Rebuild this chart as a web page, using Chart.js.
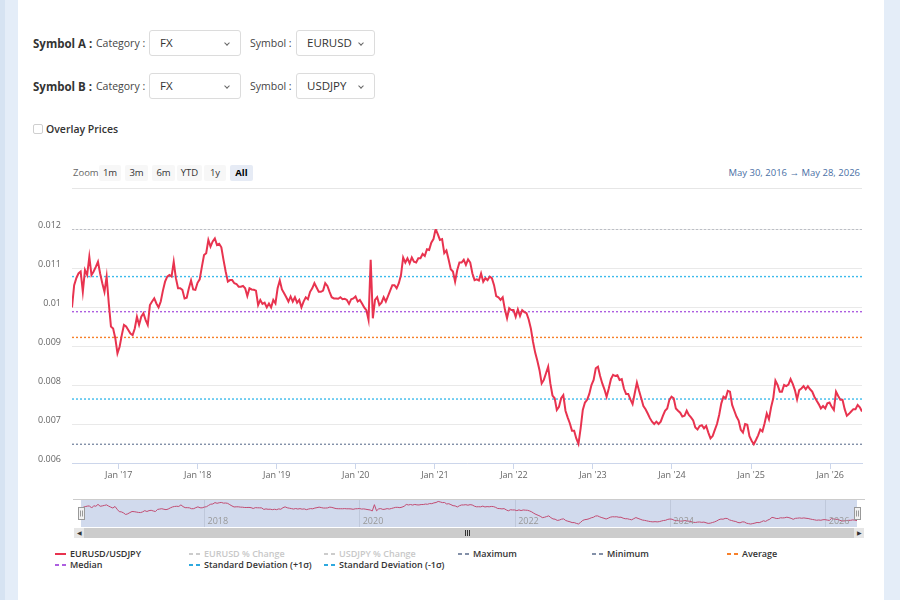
<!DOCTYPE html>
<html>
<head>
<meta charset="utf-8">
<script src="https://cdn.jsdelivr.net/npm/chart.js@4.4.1/dist/chart.umd.min.js"></script>
<style>
  html, body { margin: 0; padding: 0; }
  body {
    width: 900px; height: 600px; overflow: hidden; position: relative;
    background: linear-gradient(to right, #d6e3f2 0 5px, #e4edf8 5px);
    font-family: 'Open Sans', sans-serif; color: #333;
  }
  .panel { position: absolute; left: 18px; top: 0; width: 866px; height: 600px; background: #fff; }
  .abs { position: absolute; white-space: nowrap; }
  .lbl-b { font-size: 11.5px; font-weight: 700; color: #333; line-height: 16px; }
  .lbl { font-size: 10.5px; color: #444; line-height: 16px; }
  .sel { border: 1px solid #dcdcdc; border-radius: 3px; height: 26px; box-sizing: border-box; font-size: 11.5px; line-height: 24px; padding-left: 10px; color: #333; }
  .sel::after { content: ''; position: absolute; right: 11px; top: 10px; width: 3px; height: 3px; border-right: 1px solid #666; border-bottom: 1px solid #666; transform: rotate(45deg); }
  .chk { width: 10px; height: 10px; border: 1px solid #cfcfcf; border-radius: 2px; box-sizing: border-box; }
  .zbtn { height: 16px; line-height: 16px; font-size: 9.5px; text-align: center; background: #f7f7f7; color: #333; border-radius: 2px; }
  .zbtn.on { background: #e6ebf5; font-weight: 700; color: #000; }
  .leg { font-size: 9px; font-weight: 600; color: #333; line-height: 11px; }
  .leg.off { color: #c8c8c8; }
  .sym { position: absolute; left: -15px; top: 5px; width: 11px; height: 2px; }
</style>
</head>
<body>
<div class="panel"></div>

<div class="abs lbl-b" style="left:33px;top:36px">Symbol A :</div>
<div class="abs lbl" style="left:96px;top:35px">Category :</div>
<div class="abs sel" style="left:149px;top:30px;width:92px">FX</div>
<div class="abs lbl" style="left:250px;top:35px">Symbol :</div>
<div class="abs sel" style="left:296px;top:30px;width:79px">EURUSD</div>

<div class="abs lbl-b" style="left:33px;top:79px">Symbol B :</div>
<div class="abs lbl" style="left:96px;top:78px">Category :</div>
<div class="abs sel" style="left:149px;top:73px;width:92px">FX</div>
<div class="abs lbl" style="left:250px;top:78px">Symbol :</div>
<div class="abs sel" style="left:296px;top:73px;width:79px">USDJPY</div>

<div class="abs chk" style="left:33px;top:124px"></div>
<div class="abs lbl" style="left:46px;top:121px;font-weight:600;color:#333">Overlay Prices</div>

<div class="abs" style="left:73px;top:165px;font-size:9.5px;line-height:16px;color:#666">Zoom</div>
<div id="zoomBtns"></div>
<div class="abs" id="dateRange" style="right:40px;top:165px;font-size:9.5px;line-height:16px;color:#4a6fa5"></div>
<div class="abs" style="left:72px;top:188px;width:790px;height:1px;background:#e6e6e6"></div>

<canvas id="mainChart" class="abs" width="867" height="290" style="left:18px;top:200px"></canvas>
<canvas id="navChart" class="abs" width="792" height="34" style="left:73px;top:494px"></canvas>

<!-- scrollbar -->
<div class="abs" style="left:74px;top:528px;width:790px;height:10px;background:#f2f2f2"></div>
<div class="abs" style="left:84px;top:528px;width:770px;height:10px;background:#cccccc"></div>
<div class="abs" style="left:74px;top:528px;width:10px;height:10px;background:#e6e6e6;font-size:6px;line-height:10px;text-align:center;color:#333">&#9664;</div>
<div class="abs" style="left:854px;top:528px;width:10px;height:10px;background:#e6e6e6;font-size:6px;line-height:10px;text-align:center;color:#333">&#9654;</div>
<div class="abs" style="left:465px;top:530px;width:1px;height:6px;background:#333;box-shadow:2px 0 #333, 4px 0 #333"></div>

<div id="legend"></div>

<script>
// EURUSD/USDJPY ratio, one reading every 10 days from May 30, 2016
const startDate = Date.UTC(2016, 4, 30);
const stepDays = 10;
const ratioValues = [
  // 2016
  0.00999, 0.01056, 0.01074, 0.01086, 0.01091, 0.01039, 0.01095, 0.01082, 0.01129, 0.01082,
  0.01091, 0.01103, 0.01116, 0.01086, 0.01061, 0.01039, 0.01078, 0.01009, 0.00950, 0.00945,
  0.00920, 0.00881,
  // 2017
  0.00898, 0.00928, 0.00954, 0.00950, 0.00941, 0.00932, 0.00928, 0.00945,
  0.00975, 0.00954, 0.00975, 0.00984, 0.00967, 0.00954, 0.01005, 0.01014, 0.01022, 0.01009,
  0.00999, 0.01014, 0.01042, 0.01065, 0.01078, 0.01082, 0.01078, 0.01116, 0.01074, 0.01048,
  0.01048, 0.01044, 0.01022, 0.01024, 0.01048, 0.01068, 0.01045, 0.01044, 0.01062,
  // 2018
  0.01071, 0.01103, 0.01133, 0.01138, 0.01172, 0.01155, 0.01168, 0.01176, 0.01159, 0.01162, 0.01153,
  0.01121, 0.01091, 0.01065, 0.01069, 0.01069, 0.01061, 0.01059, 0.01052, 0.01052, 0.01054,
  0.01048, 0.01028, 0.01048, 0.01045, 0.01044, 0.01042, 0.01005, 0.01018, 0.01008, 0.01011,
  0.00999, 0.01009, 0.00999, 0.01018, 0.01009,
  // 2019
  0.01048, 0.01068, 0.01045, 0.01035, 0.01025,
  0.01014, 0.01027, 0.01014, 0.01025, 0.01011, 0.01018, 0.00999, 0.01014, 0.01025, 0.01020,
  0.01039, 0.01048, 0.01061, 0.01050, 0.01039, 0.01039, 0.01042, 0.01061, 0.01054, 0.01039,
  0.01025, 0.01022, 0.01022, 0.01021, 0.01025, 0.01020, 0.01021, 0.01018,
  // 2020
  0.01008, 0.01020, 0.01022, 0.01027, 0.01014, 0.01018, 0.01009, 0.00999, 0.00992, 0.00967, 0.01121, 0.00971,
  0.01018, 0.01025, 0.01005, 0.01011, 0.01025, 0.01014, 0.01028, 0.01042, 0.01056, 0.01056,
  0.01048, 0.01061, 0.01082, 0.01127, 0.01114, 0.01125, 0.01112, 0.01127, 0.01116, 0.01114,
  0.01125, 0.01125, 0.01136, 0.01131, 0.01148,
  // 2021
  0.01146, 0.01165, 0.01174, 0.01200, 0.01187,
  0.01172, 0.01174, 0.01138, 0.01145, 0.01122, 0.01097, 0.01091, 0.01065, 0.01095, 0.01114,
  0.01114, 0.01121, 0.01108, 0.01122, 0.01114, 0.01086, 0.01069, 0.01071, 0.01068, 0.01086,
  0.01065, 0.01074, 0.01069, 0.01078, 0.01074, 0.01056,
  // 2022
  0.01028, 0.01025, 0.01018, 0.01025,
  0.00994, 0.00971, 0.00997, 0.00992, 0.00992, 0.00975, 0.00994, 0.00977, 0.00992, 0.00987,
  0.00984, 0.00968, 0.00945, 0.00911, 0.00883, 0.00862, 0.00838, 0.00804, 0.00813, 0.00830,
  0.00847, 0.00804, 0.00773, 0.00766, 0.00736, 0.00744, 0.00766, 0.00774, 0.00734, 0.00717,
  0.00702, 0.00683, 0.00683, 0.00663, 0.00649, 0.00689,
  // 2023
  0.00736, 0.00755, 0.00762, 0.00777,
  0.00800, 0.00813, 0.00843, 0.00847, 0.00823, 0.00804, 0.00789, 0.00770, 0.00791, 0.00815,
  0.00826, 0.00823, 0.00825, 0.00813, 0.00815, 0.00791, 0.00777, 0.00777, 0.00763, 0.00751,
  0.00779, 0.00806, 0.00785, 0.00766, 0.00746, 0.00738, 0.00727, 0.00715, 0.00706, 0.00700,
  0.00706, 0.00700, 0.00706,
  // 2024
  0.00721, 0.00734, 0.00740, 0.00762, 0.00770, 0.00766, 0.00740,
  0.00734, 0.00729, 0.00719, 0.00721, 0.00734, 0.00723, 0.00717, 0.00709, 0.00691, 0.00686,
  0.00695, 0.00697, 0.00689, 0.00695, 0.00678, 0.00663, 0.00669, 0.00685, 0.00700, 0.00723,
  0.00753, 0.00770, 0.00766, 0.00785, 0.00783, 0.00749, 0.00734, 0.00719, 0.00709, 0.00685,
  0.00678,
  // 2025
  0.00700, 0.00698, 0.00669, 0.00657, 0.00648, 0.00659, 0.00671, 0.00686, 0.00681,
  0.00702, 0.00727, 0.00712, 0.00743, 0.00766, 0.00811, 0.00800, 0.00783, 0.00783, 0.00800,
  0.00797, 0.00801, 0.00815, 0.00803, 0.00787, 0.00763, 0.00787, 0.00791, 0.00797, 0.00789,
  0.00797, 0.00789, 0.00783, 0.00770, 0.00760, 0.00751, 0.00740, 0.00746,
  // 2026
  0.00740, 0.00753,
  0.00755, 0.00744, 0.00736, 0.00783, 0.00772, 0.00762, 0.00762, 0.00738, 0.00721, 0.00726,
  0.00732, 0.00738, 0.00738, 0.00749, 0.00743, 0.00732
];

// summary lines
const statNames = ['Maximum', 'Minimum', 'Average', 'Median', 'Standard Deviation (+1σ)', 'Standard Deviation (-1σ)'];
const statValues = [0.01200, 0.00648, 0.00922, 0.00988, 0.01078, 0.00764];
const statColors = ['#a9aeb8', '#8390a8', '#f7802a', '#ad5fe0', '#3dbbec', '#3dbbec'];

// axis ticks
const yearTicks = [2017, 2018, 2019, 2020, 2021, 2022, 2023, 2024, 2025, 2026];
const navYearTicks = [2018, 2020, 2022, 2024, 2026];
const zoomLabels = ['1m', '3m', '6m', 'YTD', '1y', 'All'];

const seriesColor = '#e8334f';
const DAY = 86400000;
const points = ratioValues.map((v, i) => ({ x: startDate + i * stepDays * DAY, y: v }));
const endDate = points[points.length - 1].x;

function fmtDate(ms) {
  const d = new Date(ms);
  const m = ['Jan','Feb','Mar','Apr','May','Jun','Jul','Aug','Sep','Oct','Nov','Dec'][d.getUTCMonth()];
  return m + ' ' + d.getUTCDate() + ', ' + d.getUTCFullYear();
}
document.getElementById('dateRange').textContent = fmtDate(startDate) + '  \u2192  ' + fmtDate(endDate);

// zoom buttons
const zoomX = [99, 125, 152, 177, 204, 230];
const zoomW = [22, 23, 23, 25, 22, 23];
let zb = '';
zoomLabels.forEach((t, i) => {
  zb += `<div class="abs zbtn${t === 'All' ? ' on' : ''}" style="left:${zoomX[i]}px;top:165px;width:${zoomW[i]}px">${t}</div>`;
});
document.getElementById('zoomBtns').innerHTML = zb;

// main chart
const statSets = statNames.map((n, i) => ({
  label: n,
  data: [{ x: startDate, y: statValues[i] }, { x: endDate, y: statValues[i] }],
  borderColor: statColors[i],
  borderWidth: 1.4,
  borderDash: [2, 2],
  pointRadius: 0
}));

new Chart(document.getElementById('mainChart'), {
  type: 'line',
  data: {
    datasets: [{
      label: 'EURUSD/USDJPY',
      data: points,
      borderColor: seriesColor,
      borderWidth: 2,
      pointRadius: 0,
      tension: 0
    }, ...statSets]
  },
  options: {
    responsive: false,
    animation: false,
    layout: { padding: { top: 29, right: 23, left: 0, bottom: 0 } },
    plugins: { legend: { display: false }, tooltip: { enabled: false } },
    scales: {
      x: {
        type: 'linear',
        min: startDate,
        max: endDate,
        afterFit: s => { s.height = 27; },
        afterBuildTicks: s => { s.ticks = yearTicks.map(y => ({ value: Date.UTC(y, 0, 1) })); },
        grid: { drawOnChartArea: false, drawTicks: true, tickLength: 6, tickColor: '#ccd6eb' },
        border: { color: '#ccd6eb' },
        ticks: {
          maxRotation: 0, autoSkip: false, padding: 1, color: '#666',
          font: { family: 'Open Sans', size: 9 },
          callback: v => "Jan '" + String(new Date(v).getUTCFullYear()).slice(2)
        }
      },
      y: {
        min: 0.006,
        max: 0.012,
        afterFit: s => { s.width = 54; },
        grid: { color: '#e9e9e9', drawTicks: false },
        border: { display: false },
        ticks: {
          stepSize: 0.001, padding: 11, labelOffset: -4, color: '#666',
          font: { family: 'Open Sans', size: 9 },
          callback: v => String(+v.toFixed(4))
        }
      }
    }
  }
});

// navigator
const navPlugin = {
  id: 'navMask',
  afterDatasetsDraw(chart) {
    const { ctx, chartArea: a } = chart;
    ctx.save();
    ctx.fillStyle = 'rgba(102,133,194,0.3)';
    ctx.fillRect(a.left, a.top, a.right - a.left, a.bottom - a.top);
    ctx.strokeStyle = '#cccccc';
    ctx.beginPath(); ctx.moveTo(a.left - 8, a.top + 0.5); ctx.lineTo(a.right + 8, a.top + 0.5); ctx.stroke();
    // year labels
    const xs = chart.scales.x;
    ctx.fillStyle = '#999';
    ctx.font = '9px "Open Sans"';
    ctx.textBaseline = 'bottom';
    navYearTicks.forEach(y => {
      ctx.fillText(String(y), xs.getPixelForValue(Date.UTC(y, 0, 1)) + 3, a.bottom - 1);
    });
    // handles
    [a.left, a.right].forEach(hx => {
      const cx = Math.round(hx) + 0.5, top = Math.round((a.top + a.bottom) / 2) - 6 + 0.5;
      ctx.fillStyle = '#f2f2f2';
      ctx.strokeStyle = '#999';
      ctx.fillRect(cx - 3, top, 6, 12);
      ctx.strokeRect(cx - 3, top, 6, 12);
      ctx.beginPath();
      ctx.moveTo(cx - 1, top + 3); ctx.lineTo(cx - 1, top + 9);
      ctx.moveTo(cx + 1, top + 3); ctx.lineTo(cx + 1, top + 9);
      ctx.stroke();
    });
    ctx.restore();
  }
};

new Chart(document.getElementById('navChart'), {
  type: 'line',
  data: { datasets: [{ data: points, borderColor: seriesColor, borderWidth: 1, pointRadius: 0 }] },
  options: {
    responsive: false,
    animation: false,
    layout: { padding: { top: 5, right: 8, left: 8, bottom: 1 } },
    plugins: { legend: { display: false }, tooltip: { enabled: false } },
    scales: {
      x: {
        type: 'linear', min: startDate, max: endDate,
        afterFit: s => { s.height = 0; },
        afterBuildTicks: s => { s.ticks = navYearTicks.map(y => ({ value: Date.UTC(y, 0, 1) })); },
        grid: { color: '#e6e6e6', drawTicks: false },
        border: { display: false },
        ticks: { display: false }
      },
      y: { display: false, min: 0.00575, max: 0.0126 }
    }
  },
  plugins: [navPlugin]
});

// legend
const legendItems = [
  { name: 'EURUSD/USDJPY', color: seriesColor, dash: false, off: false },
  { name: 'EURUSD % Change', color: '#cccccc', dash: true, off: true },
  { name: 'USDJPY % Change', color: '#cccccc', dash: true, off: true },
  { name: statNames[0], color: statColors[1], dash: true },
  { name: statNames[1], color: statColors[1], dash: true },
  { name: statNames[2], color: statColors[2], dash: true },
  { name: statNames[3], color: statColors[3], dash: true },
  { name: statNames[4], color: '#2ea9df', dash: true },
  { name: statNames[5], color: '#2ea9df', dash: true }
];
const legCols = [70, 204, 339, 473, 607, 742];
let lg = '';
legendItems.forEach((it, i) => {
  const left = legCols[i % 6], top = 548 + Math.floor(i / 6) * 11;
  const bg = it.dash
    ? `linear-gradient(to right, ${it.color} 0 4px, transparent 4px 7px, ${it.color} 7px 11px)`
    : it.color;
  lg += `<div class="abs leg${it.off ? ' off' : ''}" style="left:${left}px;top:${top}px"><span class="sym" style="background:${bg}"></span>${it.name}</div>`;
});
document.getElementById('legend').innerHTML = lg;
</script>
</body>
</html>
